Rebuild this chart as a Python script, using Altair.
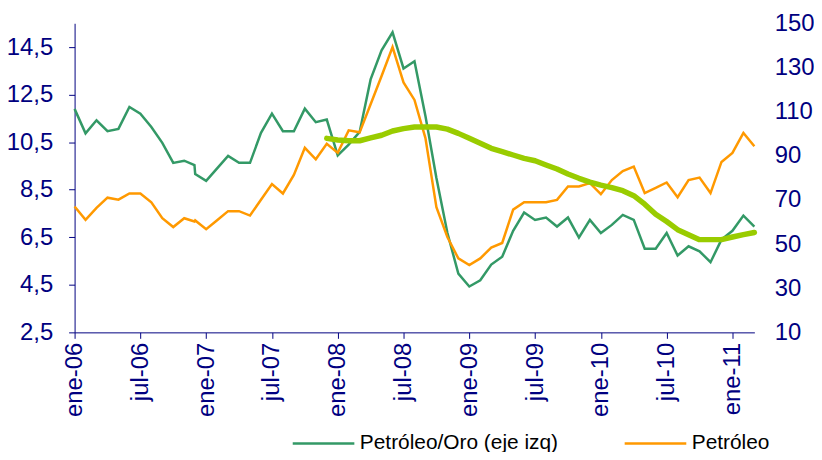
import altair as alt
import pandas as pd

# ---- data ----
dates = [
    "2006-01-01", "2006-02-01", "2006-03-01", "2006-04-01", "2006-05-01", "2006-06-01",
    "2006-07-01", "2006-08-01", "2006-09-01", "2006-10-01", "2006-11-01", "2006-11-29",
    "2006-12-01",
    "2007-01-01", "2007-02-01", "2007-03-01", "2007-04-01", "2007-05-01", "2007-06-01",
    "2007-07-01", "2007-08-01", "2007-09-01", "2007-10-01", "2007-11-01", "2007-12-01",
    "2008-01-01", "2008-02-01", "2008-03-01", "2008-04-01", "2008-05-01", "2008-06-01",
    "2008-07-01", "2008-08-01", "2008-09-01", "2008-10-01", "2008-11-01", "2008-12-01",
    "2009-01-01", "2009-02-01", "2009-03-01", "2009-04-01", "2009-05-01", "2009-06-01",
    "2009-07-01", "2009-08-01", "2009-09-01", "2009-10-01", "2009-11-01", "2009-12-01",
    "2010-01-01", "2010-02-01", "2010-03-01", "2010-04-01", "2010-05-01", "2010-06-01",
    "2010-07-01", "2010-08-01", "2010-09-01", "2010-10-01", "2010-11-01", "2010-12-01",
    "2011-01-01", "2011-02-01", "2011-03-01",
]

petroleo_oro = [
    11.90, 10.87, 11.42, 10.96, 11.06, 11.98,
    11.70, 11.14, 10.47, 9.63, 9.72, 9.54,
    9.16,
    8.87, 9.40, 9.92, 9.63, 9.63, 10.89,
    11.70, 10.96, 10.96, 11.91, 11.34, 11.45,
    9.94, 10.40, 10.93, 13.14, 14.36, 15.12,
    13.60, 13.90, 11.60, 8.99, 6.69, 4.97,
    4.43, 4.69, 5.35, 5.68, 6.77, 7.54,
    7.23, 7.33, 6.95, 7.33, 6.49, 7.23,
    6.68, 7.02, 7.44, 7.23, 6.02, 6.02,
    6.68, 5.73, 6.12, 5.91, 5.45, 6.40,
    6.77, 7.41, 6.95,
]

petroleo = [
    67.0, 61.0, 66.4, 71.0, 70.1, 72.9,
    72.9, 68.9, 61.7, 57.7, 61.7, 60.2,
    60.7,
    56.7, 60.8, 64.9, 64.9, 62.9, 70.1,
    77.2, 72.9, 81.3, 93.6, 88.4, 95.4,
    91.3, 101.5, 100.6, 113.3, 126.1, 139.2,
    123.2, 115.3, 98.0, 66.7, 53.2, 43.5,
    40.5, 43.5, 48.4, 50.5, 65.6, 68.9,
    68.9, 68.9, 70.0, 76.1, 76.1, 77.6,
    72.6, 79.0, 83.1, 85.1, 73.1, 75.4,
    77.9, 71.2, 79.0, 80.1, 73.1, 87.2,
    91.3, 100.3, 94.3,
]

tendencia = [
    None, None, None, None, None, None,
    None, None, None, None, None, None,
    None,
    None, None, None, None, None, None,
    None, None, None, None, None, 10.66,
    10.59, 10.56, 10.56, 10.68, 10.79, 10.97,
    11.07, 11.14, 11.14, 11.14, 11.05, 10.87,
    10.66, 10.45, 10.24, 10.10, 9.96, 9.82,
    9.72, 9.54, 9.37, 9.16, 8.98, 8.82,
    8.69, 8.59, 8.46, 8.25, 7.89, 7.47,
    7.16, 6.82, 6.61, 6.40, 6.40, 6.40,
    6.51, 6.61, 6.70,
]

tick_labels = ["ene-06", "jul-06", "ene-07", "jul-07", "ene-08", "jul-08",
               "ene-09", "jul-09", "ene-10", "jul-10", "ene-11"]
left_ticks = [2.5, 4.5, 6.5, 8.5, 10.5, 12.5, 14.5]
right_ticks = [10, 30, 50, 70, 90, 110, 130, 150]
series_names = ["Petróleo/Oro (eje izq)", "Petróleo"]

# ---- build table ----
d = pd.to_datetime(pd.Series(dates))
pos = (d.dt.year - 2006) * 12 + (d.dt.month - 1) + (d.dt.day - 1) / d.dt.days_in_month
df = pd.DataFrame({"t": pos, "oro": petroleo_oro, "pet": petroleo, "tend": tendencia})
df["s_oro"] = series_names[0]
df["s_pet"] = series_names[1]

NAVY = "#000080"
FONT = "Liberation Sans"

label_arr = "[" + ",".join("'%s'" % s for s in tick_labels) + "]"
xenc = alt.X(
    "t:Q",
    scale=alt.Scale(domain=[0, 62], nice=False, zero=False),
    axis=alt.Axis(
        values=list(range(0, 61, 6)),
        labelExpr=label_arr + "[round(datum.value/6)]",
        labelAngle=270, labelFontSize=24, labelFont=FONT, labelColor=NAVY,
        domainColor=NAVY, tickColor=NAVY, tickSize=6, labelPadding=4,
        grid=False, title=None,
    ),
)

color_scale = alt.Scale(domain=series_names, range=["#339966", "#FF9900"])
legend = alt.Legend(
    orient="none", legendX=218, legendY=390, direction="horizontal",
    symbolType="stroke", symbolSize=3844, symbolStrokeWidth=2.5,
    labelFontSize=21, labelFont=FONT, labelColor="black", labelOffset=4,
    labelLimit=0, columnPadding=61, title=None,
)

left_scale = alt.Scale(domain=[2.5, 15.5], nice=False, zero=False)

oro = alt.Chart(df).mark_line(strokeWidth=2.5).encode(
    x=xenc,
    y=alt.Y("oro:Q", scale=left_scale,
            axis=alt.Axis(values=left_ticks, orient="left",
                          labelExpr="replace(format(datum.value, '.1f'), '.', ',')",
                          labelFontSize=24, labelFont=FONT, labelColor=NAVY,
                          domainColor=NAVY, tickColor=NAVY, tickSize=6,
                          labelPadding=16, grid=False, title=None)),
    color=alt.Color("s_oro:N", scale=color_scale, legend=legend),
)

pet = alt.Chart(df).mark_line(strokeWidth=2.5).encode(
    x=xenc,
    y=alt.Y("pet:Q", scale=alt.Scale(domain=[10, 150], nice=False, zero=False),
            axis=alt.Axis(values=right_ticks, orient="right",
                          labelFontSize=24, labelFont=FONT, labelColor=NAVY,
                          domain=False, ticks=False, labelPadding=20,
                          grid=False, title=None)),
    color=alt.Color("s_pet:N", scale=color_scale, legend=legend),
)

tend = alt.Chart(df).transform_filter("datum.tend != null").mark_line(
    strokeWidth=5.5, color="#99CC00", strokeCap="round", strokeJoin="round"
).encode(
    x=xenc,
    y=alt.Y("tend:Q", scale=left_scale, axis=None),
)

chart = alt.layer(oro, pet, tend).resolve_scale(y="independent").properties(
    width=684, height=311,
    padding={"left": 67, "top": 14, "right": 60, "bottom": 119},
    autosize=alt.AutoSizeParams(type="none"),
    background="white",
).configure_view(stroke=None)

chart.save("out.html", embed_options={"renderer": "svg", "actions": False})
